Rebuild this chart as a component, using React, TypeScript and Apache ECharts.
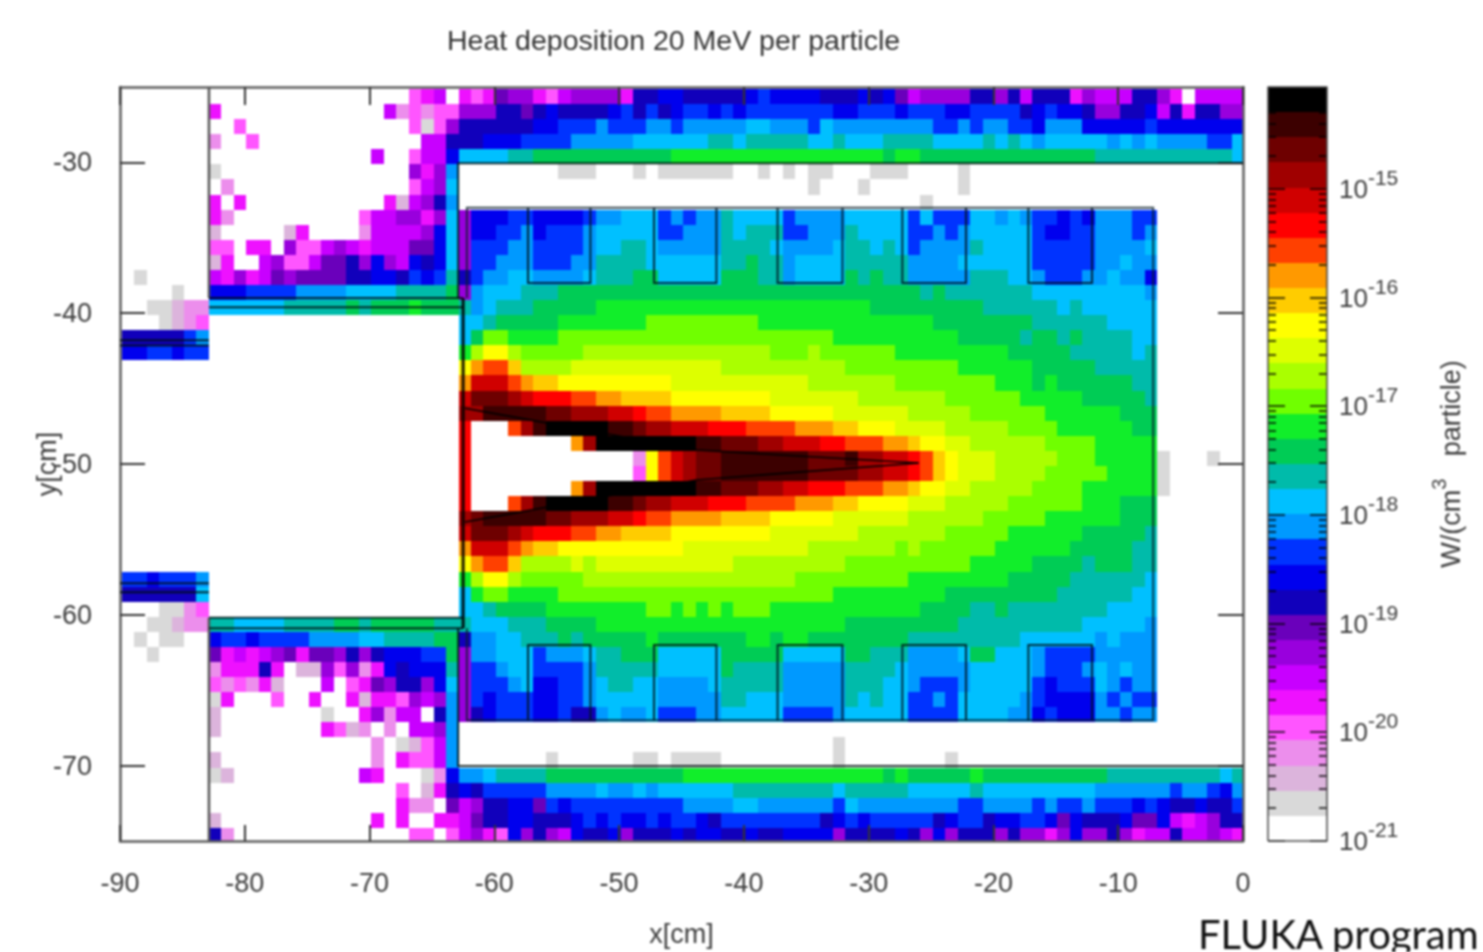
import { useEffect, useRef } from "react";
import * as echarts from "echarts";

const TITLE = "Heat deposition 20 MeV per particle";
const FONT = "'Liberation Sans', Arial, sans-serif";

// colour bar levels, lowest (white, 1e-21) to highest (black)
const LEVEL_CODES = ".ghipmnvudbBsctGELAYyoORrwxzqk";
const PALETTE = [
  "#ffffff", "#d9d9d9", "#dcb4dc", "#ec8eec", "#ff55ff", "#ee11ff", "#c800ff", "#9900dd", "#6a00bb", "#1100bb",
  "#0000ee", "#0033ff", "#0099ff", "#00c0ff", "#00bbaa", "#00cc55", "#11ee2a", "#70ff00", "#aaff00", "#ddff00",
  "#ffff00", "#ffcc00", "#ff9900", "#ff4000", "#ff0000", "#d00000", "#a00000", "#6e0000", "#3c0000", "#000000",
];
const X_TICKS = [-90, -80, -70, -60, -50, -40, -30, -20, -10, 0];
const Y_TICKS = [-30, -40, -50, -60, -70];
const BAR_MIN = -21;
const BAR_MAX = -14.06;
const BAR_DECADES = [-21, -20, -19, -18, -17, -16, -15];
const BAR_MINOR_OFFSETS = [0.301, 0.477, 0.602, 0.699, 0.778, 0.845, 0.903, 0.954];
const CELL_SHIFT_CM = 0.13;

// one string per 1 cm row from y=-25 downward; "<start column><level code>" runs, column 0 is x=-90
const ROWS = [
  "0. 23p 24m 25n 26. 27m 28p 29m 30u 31v 33m 34p 35n 36v 40m 41d 43b 45d 50b 51B 52b 56d 59b 60d 61b 62u 63n 64v 68d 70v 71d 72n 73d 76m 77v 78n 80n 81d 83v 84m 85. 86n",
  "0. 7m 8. 21n 22i 23p 24i 25p 27v 30d 32u 33d 34b 35d 39b 40B 41d 42B 43d 44b 45B 47b 48B 49b 50B 57b 59B 62b 63B 66b 68B 72d 73b 74B 75b 77d 78v 80d 82b 83n 84d 85m 86d 88v",
  "0. 9p 10. 23p 24g 25p 26v 27d 33b 35B 38s 39B 42s 44B 45s 50c 52s 55B 56c 57s 65B 67s 68B 69s 71B 73b 74s 77b 82B 83b",
  "0. 7i 8. 10p 11. 24n 26d 29b 32B 36s 41c 47t 49c 50t 55c 57t 58c 61t 65c 69t 70c 71t 72c 73s 74c 79s 80c 81s 82c 83s 87B 89c",
  "0. 20n 21. 23p 24n 26b 27c 31t 33G 44E 61G 62E 64G 78t 89c",
  "0. 7g 8. 23v 24m 25v 26s 27. 35g 38. 41g 42. 43g 49. 51g 52. 53g 54. 55g 57. 60g 63. 67g 68.",
  "0. 8i 9. 23p 24n 25v 26c 27. 55g 56. 59g 60. 67g 68.",
  "0. 7m 8. 9m 10. 21m 22h 23n 24v 25d 26s 27. 64g 65.",
  "0. 7m 8i 9. 19p 20n 22v 24m 25v 26c 27v 28b 31B 33b 37B 38s 40c 43B 44s 45B 46s 48t 49c 53B 54s 58c 63B 64c 65B 68c 70s 71c 72s 73B 75b 76B 77b 78s 81B 83.",
  "0. 7h 8. 13h 14m 15. 19i 20n 24v 25b 26c 27v 28b 30B 32s 33b 34B 37s 38c 43B 45s 48t 49c 50t 53B 55s 58t 59c 63B 65s 66B 67s 68c 73B 74b 76B 78s 81B 82s 83.",
  "0. 7p 9. 10m 12. 13v 14p 16n 17v 18n 19m 20n 23u 25b 26c 27v 28B 31s 33B 37s 38c 40t 42c 43s 48t 52c 53s 57c 58t 60c 61t 62c 63B 64s 68t 69c 73B 78s 82c 83.",
  "0. 7h 8m 9. 11n 12v 13p 15n 16u 18d 19v 20b 21v 22n 23b 24d 25b 26c 27v 28B 30s 33B 36s 38t 42c 48t 50G 51t 53s 54c 58t 63s 67c 73B 78s 80c 81s 83.",
  "0. 1g 2. 7n 8m 9v 10m 11n 12u 13v 14u 18d 20b 22d 23B 24b 25B 26t 27d 28B 29s 31c 33s 37c 38t 41G 43c 48G 51t 53s 54c 58G 59t 60G 61t 63s 68t 71c 73s 74B 77s 79c 80s 82b 83.",
  "0. 4g 5. 7b 10B 14s 18c 22t 26G 27v 28s 29c 32t 35G 64t 65G 66t 73c 82s 83.",
  "0. 2g 4h 5i 7c 13t 18G 19t 20G 23E 24G 27t 28s 29c 30t 33G 38E 60G 69t 75c 76t 77c 83.",
  "0. 3g 4h 5i 6p 7. 27c 29t 30G 35E 42L 51E 65G 73t 79c 83.",
  "0d 5B 6s 7. 27c 28G 29L 31E 35L 57E 67G 72t 73G 75t 76G 77t 81c 83.",
  "0b 2B 4b 5B 7. 27E 28A 29y 31A 32L 37A 52L 55A 56L 62E 71G 76t 81c 82t 83.",
  "0. 27y 28O 29R 31o 32A 36Y 48A 58L 67E 73G 78t 83.",
  "0. 27O 28w 31R 32O 33o 35y 44Y 55A 62L 70E 73G 74E 75G 81t 83.",
  "0. 27w 28z 31x 32w 33r 36R 38O 40o 44y 52Y 59A 66L 72E 77G 82t 83.",
  "0. 27x 29q 34z 36x 39w 41r 42R 44O 48o 52y 57Y 63A 68L 74E 80G 83.",
  "0. 27r 28. 31R 32x 33q 34k 39q 41z 42x 44w 47r 50R 54O 57o 59y 62Y 66A 71L 75E 81G 83.",
  "0. 27r 28. 36O 37x 38k 46q 48z 51x 53w 56r 58R 61O 63o 64y 66Y 68A 74L 78E 83.",
  "0. 27r 28. 41i 42y 43R 44w 45x 46z 48q 55z 58q 59x 61w 63r 64R 65o 66y 67Y 70A 75L 78E 83g 84. 87g 88.",
  "0. 27r 28. 41p 42y 43R 44w 45x 46z 48q 55z 59x 61w 63r 64R 65o 66y 67Y 70A 74L 79E 83g 84.",
  "0. 27r 28. 36O 37x 38k 46q 48z 51x 53w 55r 58R 61O 63o 64y 66Y 68A 73L 77E 83g 84.",
  "0. 27r 28. 31R 32x 33q 34k 39q 41z 42x 44w 47r 50R 54O 57o 59y 63Y 66A 71L 77E 80G 83.",
  "0. 27x 28z 29q 34z 36x 39w 41r 42R 44O 48o 52y 57Y 63A 69L 74E 80G 83.",
  "0. 27w 28z 31x 32w 33r 36R 38O 40o 44y 52Y 59A 66L 71E 77G 82t 83.",
  "0. 27O 28w 31R 32O 33o 35y 45Y 55A 62L 63A 64L 70E 76G 81t 83.",
  "0. 27y 28O 29R 31o 32A 36Y 37A 38Y 49A 58L 68E 73G 77t 78G 81t 83.",
  "0B 2b 3B 6s 7. 27E 28A 29y 31A 32L 37A 54L 63E 71G 76t 82c 83.",
  "0d 6c 7. 27c 28E 29L 31E 35L 57E 66G 75t 81c 83.",
  "0. 3g 5i 6p 7. 27c 29t 30G 34E 42L 44E 45L 46E 47L 48E 49L 52E 64G 68t 70G 71t 79c 83.",
  "0. 2g 4h 5i 7t 9c 13t 17G 19t 20G 25t 27t 28c 31t 34G 38E 58G 67t 77c 82s 83.",
  "0. 1g 2. 3g 5. 7b 8B 10b 11B 15s 19c 21t 25G 27d 28s 30c 32t 35G 36t 37G 42E 43G 50E 52G 53E 55G 63t 72c 78s 79c 80s 83.",
  "0. 2g 3. 7u 8m 9n 10m 11n 12v 13u 14m 15u 17v 18d 19v 20d 21b 24B 26G 27v 28s 30c 33B 34s 37c 38t 40G 43c 48G 53c 58G 60t 63s 67c 68G 70c 73s 74B 78s 83.",
  "0. 7i 8m 11d 12m 13. 14h 16v 17p 18v 19i 20m 21b 22d 23b 26t 27v 28B 30s 31c 33B 37s 38t 43c 48G 49t 53s 58t 62c 63s 68c 73s 74B 77s 78c 79s 80c 81s 83.",
  "0. 7p 8i 9p 10i 11m 12h 13. 16n 17. 18p 19m 20u 21v 22d 24v 25b 26c 27v 28B 31s 32c 33b 35B 37s 38c 39t 41c 43s 47c 48t 53s 58t 61c 63s 64B 67s 68c 73B 74b 75B 78c 79s 80B 81s 83.",
  "0. 7g 8m 9. 12p 13. 15m 16. 18m 19h 20m 22p 23v 24n 25v 26s 27v 28B 29b 30B 33b 35B 37s 38c 43s 48t 50c 53s 58t 59c 60t 61c 63B 65s 66B 67c 72s 73B 74b 78s 79B 80s 81B 83.",
  "0. 7h 8. 16g 17. 19m 20v 21i 22n 24. 25d 26s 27v 28d 29b 30B 33b 35B 36d 38s 39c 40s 42c 43B 46s 48c 53B 57s 58c 63B 67c 71s 73b 74B 75b 78s 80B 81s 83.",
  "0. 7h 8. 16m 17p 18h 19i 20. 21i 22. 23n 25v 26s 27.",
  "0. 20i 21. 22g 23h 24p 25n 26s 27. 57g 58.",
  "0. 7h 8. 20i 21. 22m 23p 25n 26s 27. 34g 35. 41g 43. 44g 48. 57g 58. 66g 67.",
  "0. 7g 8h 9. 19n 20m 21. 24g 25i 26b 27s 29c 30t 34G 45E 61G 62E 63G 68E 69G 79t 88c 89t",
  "0. 22p 23. 24h 25m 26d 27b 28d 29B 34s 38c 39s 41c 42s 43c 49t 57c 58t 63c 68t 69c 78s 84B 85s 87B 88b 89s",
  "0. 22m 23i 25. 26u 27n 28v 29d 31b 33u 34B 35b 36B 45s 49c 51s 57B 58c 59s 67B 69s 73B 74s 75B 77s 78B 81b 82B 83b 84d 86b 87d 89B",
  "0. 7h 8. 20m 21. 22m 23. 25m 27n 28u 29d 31b 33d 36b 37B 38b 39B 40b 42B 43b 44B 46b 47d 48B 56d 57b 58B 59b 60B 65d 66b 67B 69d 70b 72B 74b 75u 76b 77d 80b 81u 83b 84n 85m 86n 87v 88d",
  "0. 7d 8i 9. 23p 25. 26p 27n 28v 29m 30p 31b 32v 33d 34v 35n 36b 37d 39b 40v 41d 44b 45d 46b 48d 50b 51d 53b 57v 58d 62b 63d 64v 65b 66v 67d 70v 71d 72v 74m 75v 76b 77v 79d 80v 81m 82n 84d 85n 87v 88n 89m",
];

// geometry outlines, in cm
const GREY_LINES = [
  [[-82.87, -25], [-82.87, -39]],
  [[-82.87, -60.2], [-82.87, -75]],
];
const WALL_LINES = [
  [[-62.9, -39], [-62.9, -30.05], [0, -30.05]],
  [[-62.9, -60.9], [-62.9, -70.03], [0, -70.03]],
  [[-82.87, -39], [-62.5, -39]],
  [[-82.87, -39.6], [-62.5, -39.6]],
  [[-82.87, -60.2], [-62.5, -60.2]],
  [[-82.87, -60.9], [-62.5, -60.9]],
  [[-90, -41.8], [-82.87, -41.8]],
  [[-90, -42.15], [-82.87, -42.15]],
  [[-90, -57.9], [-82.87, -57.9]],
  [[-90, -58.5], [-82.87, -58.5]],
];
const TARGET_WALL = [[-62.5, -39], [-62.5, -60.9]];
const BOX_LINE = [[-62.2, -39], [-62.2, -33], [-7.2, -33], [-7.2, -67], [-62.2, -67], [-62.2, -60.9]];
const POCKET_EDGES = [[-57.3, -52.3], [-47.2, -42.2], [-37.3, -32.1], [-27.3, -22.2], [-17.2, -12.1]];
const CONE_UPPER = [[-62.35, -46.3], [-43.8, -49.07], [-26, -49.93]];
const CONE_LOWER = [[-62.35, -53.85], [-43.8, -51.06], [-26, -49.93]];

function decodeCells() {
  const cells: number[][] = [];
  ROWS.forEach((row, r) => {
    const runs = [...row.matchAll(/(\d+)([^\d\s])/g)].map((m) => [Number(m[1]), LEVEL_CODES.indexOf(m[2])]);
    runs.forEach(([start, level], i) => {
      const end = i + 1 < runs.length ? runs[i + 1][0] : 90;
      if (level <= 0) return;
      for (let c = start; c < end; c++) cells.push([-90 + c, -25 - r, level]);
    });
  });
  return cells;
}

function outline(data: number[][], color: string, width: number) {
  return {
    type: "line",
    xAxisIndex: 0,
    yAxisIndex: 0,
    data,
    showSymbol: false,
    symbol: "none",
    silent: true,
    clip: false,
    z: 6,
    lineStyle: { color, width, cap: "butt", join: "miter" },
  };
}

const axisText = { color: "#3c3c3c", fontFamily: FONT, fontSize: 27 };
const tickStyle = { color: "#333", width: 2 };
const frameLine = { show: true, onZero: false, lineStyle: { color: "#5e5e5e", width: 2.5 } };

export default function App() {
  const ref = useRef<HTMLDivElement>(null);
  useEffect(() => {
    const chart = echarts.init(ref.current!, null, { renderer: "svg" });
    const barStep = (BAR_MAX - BAR_MIN) / PALETTE.length;
    const pockets: any[] = [];
    POCKET_EDGES.forEach(([a, b]) => {
      pockets.push(outline([[a, -33], [a, -38], [b, -38], [b, -33]], "rgba(0,20,30,0.85)", 2));
      pockets.push(outline([[a, -67], [a, -62], [b, -62], [b, -67]], "rgba(0,20,30,0.85)", 2));
    });
    const ticks: number[][] = [];
    BAR_DECADES.forEach((d) => {
      ticks.push([d, 17]);
      if (d < -15) BAR_MINOR_OFFSETS.forEach((o) => ticks.push([d + o, 8]));
    });
    BAR_MINOR_OFFSETS.slice(0, 7).forEach((o) => ticks.push([-15 + o, 8]));

    chart.setOption({
      animation: false,
      backgroundColor: "#ffffff",
      title: {
        text: TITLE,
        left: 447,
        top: 25,
        padding: 0,
        textStyle: { color: "#333", fontFamily: FONT, fontSize: 28.5, fontWeight: "normal" },
      },
      grid: [
        { left: 120, top: 87, width: 1123, height: 754, containLabel: false },
        { left: 1268, top: 87, width: 59, height: 754, containLabel: false },
      ],
      xAxis: [
        {
          type: "value", gridIndex: 0, min: -90, max: 0, position: "bottom", z: 5,
          name: "x[cm]", nameLocation: "middle", nameGap: 79, nameMoveOverlap: false,
          nameTextStyle: { ...axisText },
          axisLine: frameLine,
          axisTick: { inside: true, length: 16, lineStyle: tickStyle, customValues: X_TICKS },
          axisLabel: { ...axisText, margin: 28, customValues: X_TICKS, formatter: (v: number) => String(v) },
          splitLine: { show: false },
        },
        {
          type: "value", gridIndex: 0, min: -90, max: 0, position: "top", z: 5,
          axisLine: frameLine,
          axisTick: { inside: true, length: 18, lineStyle: tickStyle, customValues: X_TICKS },
          axisLabel: { show: false },
          splitLine: { show: false },
        },
        {
          type: "value", gridIndex: 1, min: 0, max: 1, show: false,
        },
      ],
      yAxis: [
        {
          type: "value", gridIndex: 0, min: -75, max: -25, position: "left", z: 5,
          name: "y[cm]", nameLocation: "middle", nameGap: 60, nameRotate: 90, nameMoveOverlap: false,
          nameTextStyle: { ...axisText },
          axisLine: frameLine,
          axisTick: { inside: true, length: 25, lineStyle: tickStyle, customValues: Y_TICKS },
          axisLabel: { ...axisText, margin: 28, customValues: Y_TICKS, formatter: (v: number) => String(v) },
          splitLine: { show: false },
        },
        {
          type: "value", gridIndex: 0, min: -75, max: -25, position: "right", z: 5,
          axisLine: frameLine,
          axisTick: { inside: true, length: 25, lineStyle: tickStyle, customValues: Y_TICKS },
          axisLabel: { show: false },
          splitLine: { show: false },
        },
        {
          type: "value", gridIndex: 1, min: BAR_MIN, max: BAR_MAX, position: "right", z: 5,
          name: "{a|W/(cm}{b|3}{a|   particle)}",
          nameLocation: "middle", nameGap: 102, nameRotate: 90, nameMoveOverlap: false,
          nameTextStyle: {
            rich: {
              a: { color: "#3c3c3c", fontFamily: FONT, fontSize: 27, lineHeight: 44 },
              b: { color: "#3c3c3c", fontFamily: FONT, fontSize: 20, lineHeight: 20, verticalAlign: "top" },
            },
          },
          axisLine: { show: false },
          axisTick: { show: false },
          axisLabel: {
            margin: 12,
            customValues: BAR_DECADES,
            formatter: (v: number) => `{a|10}{b|${v}}`,
            rich: {
              a: { color: "#3c3c3c", fontFamily: FONT, fontSize: 26, lineHeight: 44 },
              b: { color: "#3c3c3c", fontFamily: FONT, fontSize: 21, lineHeight: 20, verticalAlign: "top" },
            },
          },
          splitLine: { show: false },
        },
      ],
      graphic: [
        {
          type: "text",
          left: 1198,
          top: 914,
          z: 20,
          style: { text: "FLUKA program", fill: "#111", font: "40px Lato, sans-serif" },
        },
      ],
      series: [
        {
          type: "custom",
          coordinateSystem: "cartesian2d",
          xAxisIndex: 0,
          yAxisIndex: 0,
          silent: true,
          clip: false,
          z: 2,
          encode: { x: 0, y: 1 },
          data: decodeCells(),
          renderItem: (_: any, api: any) => {
            const x = api.value(0);
            const y = api.value(1);
            const p0 = api.coord([x + CELL_SHIFT_CM, y - CELL_SHIFT_CM]);
            const p1 = api.coord([Math.min(0, x + 1 + CELL_SHIFT_CM), Math.max(-75, y - 1 - CELL_SHIFT_CM)]);
            const x0 = Math.round(p0[0]);
            const y0 = Math.round(p0[1]);
            return {
              type: "rect",
              shape: { x: x0, y: y0, width: Math.round(p1[0]) - x0, height: Math.round(p1[1]) - y0 },
              style: { fill: PALETTE[api.value(2)] },
            };
          },
        },
        ...GREY_LINES.map((d) => outline(d, "#555", 2.5)),
        ...WALL_LINES.map((d) => outline(d, "rgba(0,15,15,0.85)", 2)),
        outline(TARGET_WALL, "rgba(0,0,0,0.9)", 3),
        outline(BOX_LINE, "rgba(10,30,40,0.8)", 2),
        ...pockets,
        outline(CONE_UPPER, "#000", 1.6),
        outline(CONE_LOWER, "#000", 1.6),
        {
          type: "custom",
          coordinateSystem: "cartesian2d",
          xAxisIndex: 2,
          yAxisIndex: 2,
          silent: true,
          z: 2,
          encode: { y: 0 },
          data: PALETTE.map((_, i) => [i]),
          renderItem: (_: any, api: any) => {
            const i = api.value(0);
            const p0 = api.coord([0, BAR_MIN + (i + 1) * barStep]);
            const p1 = api.coord([1, BAR_MIN + i * barStep]);
            return {
              type: "rect",
              shape: { x: p0[0], y: Math.round(p0[1]), width: p1[0] - p0[0], height: Math.round(p1[1]) - Math.round(p0[1]) },
              style: { fill: PALETTE[i] },
            };
          },
        },
        {
          type: "custom",
          coordinateSystem: "cartesian2d",
          xAxisIndex: 2,
          yAxisIndex: 2,
          silent: true,
          clip: false,
          z: 3,
          encode: { y: 0 },
          data: ticks,
          renderItem: (_: any, api: any) => {
            const p = api.coord([0, api.value(0)]);
            const q = api.coord([1, api.value(0)]);
            const len = api.value(1);
            const y = Math.round(p[1]);
            const lineStyle = { stroke: "rgba(0,0,0,0.7)", lineWidth: 2 };
            return {
              type: "group",
              children: [
                { type: "line", shape: { x1: p[0], y1: y, x2: p[0] + len, y2: y }, style: lineStyle },
                { type: "line", shape: { x1: q[0], y1: y, x2: q[0] - len, y2: y }, style: lineStyle },
              ],
            };
          },
        },
        {
          type: "line",
          xAxisIndex: 2,
          yAxisIndex: 2,
          data: [[0, BAR_MIN], [0, BAR_MAX], [1, BAR_MAX], [1, BAR_MIN], [0, BAR_MIN]],
          showSymbol: false,
          symbol: "none",
          silent: true,
          clip: false,
          z: 4,
          lineStyle: { color: "rgba(70,70,70,0.75)", width: 2 },
        },
      ],
    });
    return () => chart.dispose();
  }, []);
  return (
    <div
      ref={ref}
      style={{ position: "fixed", left: 0, top: 0, width: 1483, height: 952, filter: "blur(0.8px)", overflow: "hidden" }}
    />
  );
}
